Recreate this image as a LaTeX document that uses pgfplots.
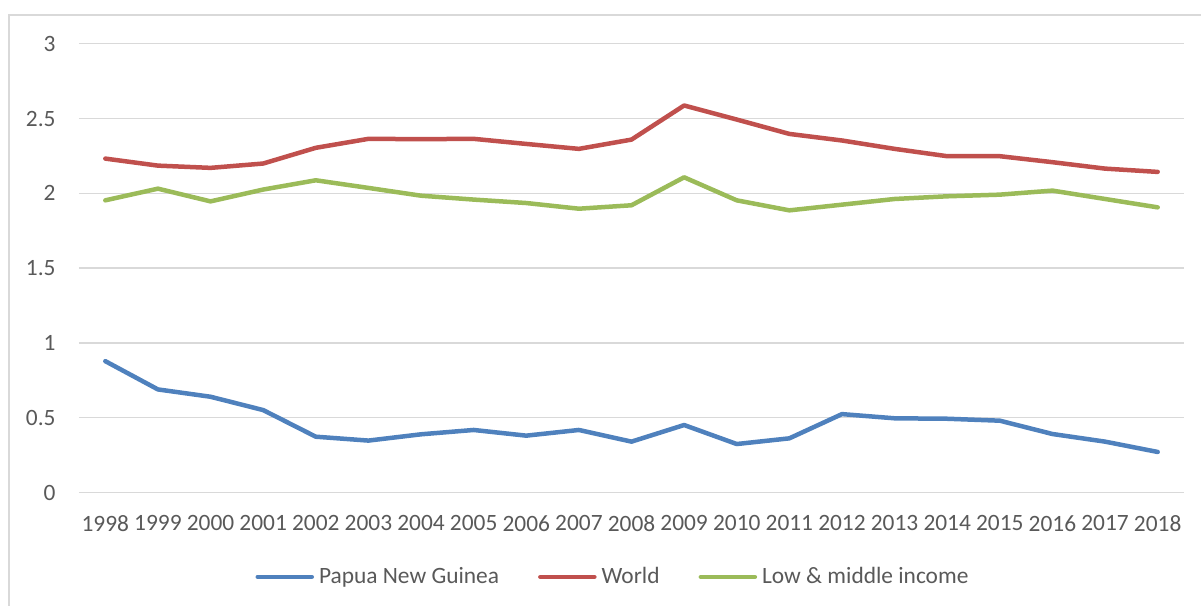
\documentclass[border=0pt]{standalone}
\usepackage{fontspec}
\setmainfont{Carlito}
\usepackage{pgfplots}
\pgfplotsset{compat=1.18}
\definecolor{pngblue}{HTML}{4F81BD}
\definecolor{worldred}{HTML}{C0504D}
\definecolor{lmigreen}{HTML}{9BBB59}
\definecolor{gridgray}{HTML}{D9D9D9}
\definecolor{textgray}{HTML}{595959}

% year index 0..20 = 1998..2018
\pgfplotstableread{
x png world lmi
0  0.878 2.232 1.953
1  0.689 2.185 2.031
2  0.640 2.170 1.946
3  0.551 2.199 2.025
4  0.373 2.304 2.087
5  0.347 2.364 2.036
6  0.389 2.362 1.984
7  0.418 2.364 1.958
8  0.380 2.330 1.935
9  0.418 2.297 1.897
10 0.340 2.359 1.920
11 0.451 2.587 2.107
12 0.324 2.493 1.953
13 0.362 2.397 1.886
14 0.524 2.353 1.924
15 0.496 2.297 1.962
16 0.493 2.248 1.980
17 0.480 2.248 1.991
18 0.391 2.208 2.018
19 0.340 2.165 1.962
20 0.271 2.143 1.906
}\datatable

\begin{document}
\begin{tikzpicture}
\useasboundingbox (-39.5bp,-56.75bp) rectangle (561bp,246.25bp);
% chart frame
\draw[gridgray, line width=0.75bp] (-35bp,-56.75bp) -- (-35bp,238.75bp) -- (561bp,238.75bp);
\begin{axis}[
  at={(0,0)}, anchor=south west,
  scale only axis,
  width=552.5bp, height=224.4bp,
  xmin=-0.5, xmax=20.5,
  ymin=0, ymax=3,
  xtick={0,...,20},
  xticklabels={1998,1999,2000,2001,2002,2003,2004,2005,2006,2007,2008,2009,2010,2011,2012,2013,2014,2015,2016,2017,2018},
  ytick={0,0.5,1,1.5,2,2.5,3},
  yticklabels={0,0.5,1,1.5,2,2.5,3},
  axis line style={draw=none},
  major tick length=0pt,
  ymajorgrids,
  major grid style={gridgray, line width=0.75bp},
  tick label style={font=\fontsize{11.7bp}{14bp}\selectfont, text=textgray, inner sep=0pt},
  yticklabel style={anchor=east, xshift=-11.5bp},
  xticklabel style={anchor=north, yshift=-11.25bp},
  legend columns=3,
  legend style={at={(0.4846,-0.188)}, anchor=center, draw=none, fill=none,
    font=\fontsize{11.7bp}{14bp}\selectfont, text=textgray,
    nodes={inner xsep=2.5bp, inner ysep=0pt},
    /tikz/every even column/.append style={column sep=17bp}},
  legend image code/.code={\draw[#1, line cap=round] (0bp,0bp) -- (27bp,0bp);},
  every axis plot/.append style={line width=2.25bp, line cap=round, line join=round},
]
\addplot[pngblue] table[x=x, y=png] {\datatable};
\addlegendentry{Papua New Guinea}
\addplot[worldred] table[x=x, y=world] {\datatable};
\addlegendentry{World}
\addplot[lmigreen] table[x=x, y=lmi] {\datatable};
\addlegendentry{Low \& middle income}
\end{axis}
\end{tikzpicture}
\end{document}
